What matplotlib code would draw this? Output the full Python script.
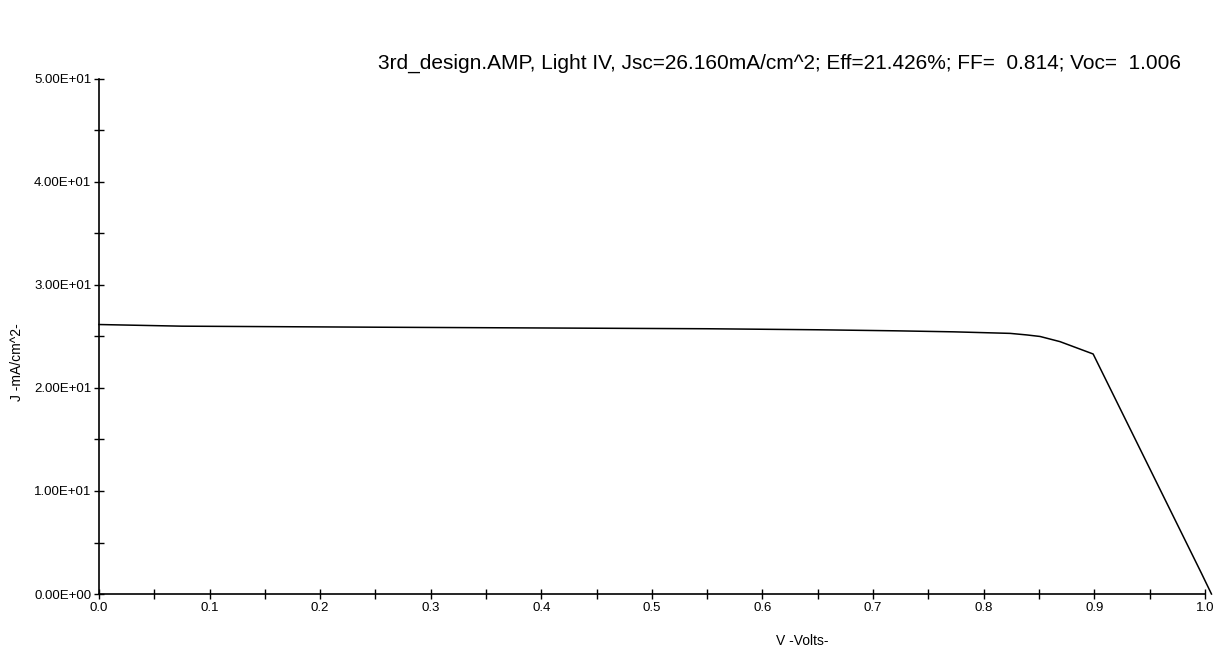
import matplotlib
matplotlib.use("Agg")
import matplotlib.pyplot as plt
from matplotlib.ticker import MultipleLocator, FuncFormatter

# Light IV curve (V in volts, J in mA/cm^2)
volts = [0.0, 0.075, 0.25, 0.55, 0.65, 0.72, 0.773, 0.807, 0.824, 0.839,
         0.851, 0.869, 0.899, 0.997, 1.006]
j_ma = [26.16, 26.0, 25.9, 25.75, 25.65, 25.55, 25.45, 25.35, 25.3, 25.15,
        25.0, 24.5, 23.3, 2.0, 0.0]

TITLE = ("3rd_design.AMP, Light IV, Jsc=26.160mA/cm^2; Eff=21.426%; "
         "FF=  0.814; Voc=  1.006")

plt.rcParams.update({
    "font.family": ["Liberation Sans", "DejaVu Sans"],
    "font.size": 9,
})

fig = plt.figure(figsize=(12.17, 6.47), dpi=100)
ax = fig.add_axes([0.0813, 0.0819, 0.9087, 0.7961])

ax.plot(volts, j_ma, color="black", lw=1.1, clip_on=False)

ax.set_xlim(0, 1.0)
ax.set_ylim(0, 50)
ax.xaxis.set_major_locator(MultipleLocator(0.1))
ax.xaxis.set_minor_locator(MultipleLocator(0.05))
ax.yaxis.set_major_locator(MultipleLocator(10))
ax.yaxis.set_minor_locator(MultipleLocator(5))
ax.xaxis.set_major_formatter(FuncFormatter(lambda v, p: f"{v:.1f}"))
ax.yaxis.set_major_formatter(FuncFormatter(lambda v, p: f"{v:.2E}"))

for s in ("top", "right"):
    ax.spines[s].set_visible(False)
for s in ("left", "bottom"):
    ax.spines[s].set_linewidth(1.2)

ax.tick_params(which="both", direction="inout", length=7, width=1.0, colors="black")
ax.tick_params(axis="both", which="major", pad=2, labelsize=9.5)

ax.set_xlabel("V -Volts-", fontsize=10)
ax.xaxis.set_label_coords(0.636, -0.078)
ax.set_ylabel("J -mA/cm^2-", fontsize=10)
ax.yaxis.set_label_coords(-0.068, 0.45)

fig.text(1181 / 1217, 1 - 63 / 647, TITLE, ha="right", va="center", fontsize=15)

fig.savefig("out.png", dpi=100)
